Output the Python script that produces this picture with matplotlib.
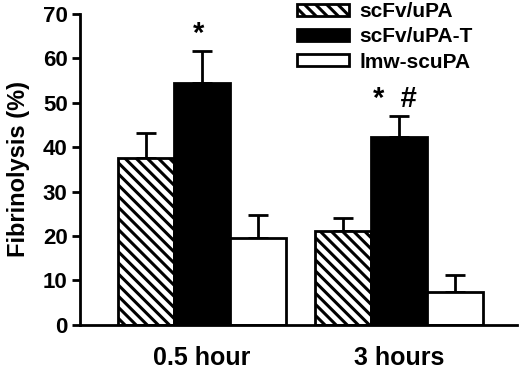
import matplotlib.pyplot as plt
import numpy as np

plt.rcParams['font.family'] = ['Liberation Sans', 'DejaVu Sans']
plt.rcParams['font.weight'] = 'bold'
plt.rcParams['axes.labelweight'] = 'bold'
plt.rcParams['hatch.linewidth'] = 2.2

groups = ['0.5 hour', '3 hours']
series = ['scFv/uPA', 'scFv/uPA-T', 'lmw-scuPA']
means = {
    'scFv/uPA': [37.6, 21.2],
    'scFv/uPA-T': [54.5, 42.3],
    'lmw-scuPA': [19.6, 7.3],
}
errors = {
    'scFv/uPA': [5.6, 2.9],
    'scFv/uPA-T': [7.2, 4.8],
    'lmw-scuPA': [5.2, 4.0],
}
marks = ['*', '*  #']

styles = {
    'scFv/uPA': dict(color='white', hatch='\\\\\\'),
    'scFv/uPA-T': dict(color='black', hatch=None),
    'lmw-scuPA': dict(color='white', hatch=None),
}

fig = plt.figure(figsize=(5.2, 3.7), dpi=100)
ax = fig.add_axes([0.154, 0.122, 0.84, 0.84])

x = np.array([0.0, 1.0])
w = 0.285
for i, s in enumerate(series):
    pos = x + (i - 1) * w
    ax.bar(pos, means[s], w, color=styles[s]['color'], hatch=styles[s]['hatch'],
           edgecolor='black', linewidth=2, label=s, zorder=2)
    ax.errorbar(pos, means[s], yerr=[np.zeros(2), errors[s]], fmt='none',
                ecolor='black', elinewidth=2, capsize=7, capthick=2, zorder=1)

# significance marks above the scFv/uPA-T bars
top = np.array(means['scFv/uPA-T']) + np.array(errors['scFv/uPA-T'])
for xi, t, m in zip(x, top, marks):
    ax.text(xi - 0.02, t + 0.6, m, ha='center', va='bottom', fontsize=21, fontweight='bold')

ax.set_xlim(-0.62, 1.6)
ax.set_ylim(0, 70)
ax.set_yticks(np.arange(0, 71, 10))
ax.set_xticks(x)
ax.set_xticklabels(groups, fontsize=18, fontweight='bold')
ax.set_yticklabels([str(v) for v in range(0, 71, 10)], fontsize=16, fontweight='bold')
ax.tick_params(axis='x', length=0, pad=15)
ax.tick_params(axis='y', width=2, length=6, pad=3)
ax.set_ylabel('Fibrinolysis (%)', fontsize=17, fontweight='bold', labelpad=9)
for side in ['top', 'right']:
    ax.spines[side].set_visible(False)
for side in ['left', 'bottom']:
    ax.spines[side].set_linewidth(2)

leg = ax.legend(loc='upper left', bbox_to_anchor=(297 / 520, 368 / 370),
                bbox_transform=fig.transFigure, frameon=False,
                prop={'size': 15, 'weight': 'bold'},
                handlelength=2.5, handleheight=0.5, labelspacing=0.3,
                handletextpad=0.5, borderpad=0, borderaxespad=0)

fig.savefig('out.png', dpi=100)
